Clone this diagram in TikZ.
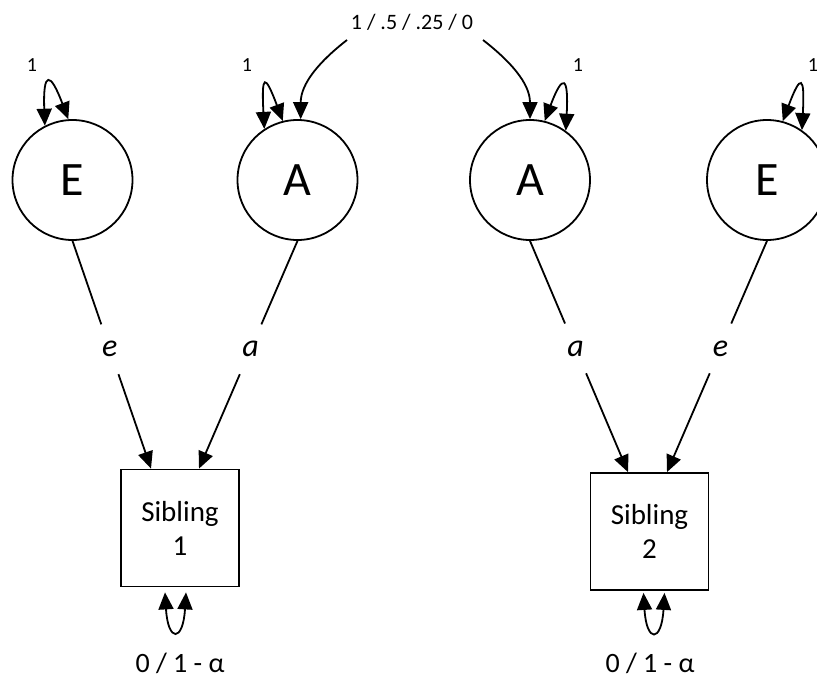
\documentclass[tikz,border=0pt]{standalone}
\usepackage{fontspec}
\setmainfont{Carlito}
\usetikzlibrary{arrows.meta}
\begin{document}
\begin{tikzpicture}[x=1pt,y=1pt,line width=1.8pt,
  >={Triangle[length=17pt,width=15pt]},
  lat/.style={draw,circle,minimum size=120pt,inner sep=0pt,font=\fontsize{48}{56}\selectfont},
  obs/.style={draw,rectangle,minimum width=118pt,minimum height=117pt,inner sep=0pt,align=center,font=\fontsize{29}{34}\selectfont},
  lbl/.style={inner sep=0pt,minimum height=48pt,minimum width=20pt,font=\fontsize{32}{36}\selectfont\itshape},
  num/.style={inner sep=0pt,font=\fontsize{20}{24}\selectfont},
  var/.style={inner sep=0pt,font=\fontsize{28}{34}\selectfont}]
\clip (0,0) rectangle (817,-679);
% latent variables
\node[lat] (E1) at (72.5,-180) {E};
\node[lat] (A1) at (297.5,-180) {A};
\node[lat] (A2) at (530,-180) {A};
\node[lat] (E2) at (767,-180) {E};
% observed
\node[obs] (S1) at (180,-528) {Sibling\\1};
\node[obs] (S2) at (649.5,-531.5) {Sibling\\2};
% top label
\node[num,font=\fontsize{22}{26}\selectfont] (top) at (412,-22) {1 / .5 / .25 / 0};
\coordinate (tl) at (347,-40);
\coordinate (tr) at (483,-40);
\draw[->] (tl) .. controls +(-27,-21) and +(0,36) .. (A1.87);
\draw[->] (tr) .. controls +(27,-21) and +(0,36) .. (A2.90);
% variance labels
\node[num] (v1) at (32,-65) {1};
\node[num] (v2) at (247,-65) {1};
\node[num] (v3) at (578,-65) {1};
\node[num] (v4) at (813,-65) {1};
% self loops on latents
\draw[<->] (E1.117) .. controls +(-2,55) and +(-18,48) .. (E1.94);
\draw[<->] (A1.123) .. controls +(-3,55) and +(-18,48) .. (A1.104);
\draw[<->] (A2.76) .. controls +(18,48) and +(3,55) .. (A2.54);
\draw[<->] (E2.75) .. controls +(18,48) and +(3,55) .. (E2.55);
% paths
\coordinate (t1) at ([xshift=-29pt]S1.north);
\coordinate (t2) at ([xshift=19pt]S1.north);
\coordinate (t3) at ([xshift=-21.5pt]S2.north);
\coordinate (t4) at ([xshift=17.5pt]S2.north);
\path (E1.south) -- node[lbl,pos=0.476] (le1) {e} (t1);
\path (A1.south) -- node[lbl,pos=0.476] (la1) {a} (t2);
\path (A2.south) -- node[lbl,pos=0.465] (la2) {a} (t3);
\path (E2.south) -- node[lbl,pos=0.465] (le2) {e} (t4);
\draw (E1.south) -- (le1);
\draw[->] (le1) -- (t1);
\draw (A1.south) -- (la1);
\draw[->] (la1) -- (t2);
\draw (A2.south) -- (la2);
\draw[->] (la2) -- (t3);
\draw (E2.south) -- (le2);
\draw[->] (le2) -- (t4);
% residual loops
\draw[<->] ([xshift=-15pt,yshift=-5pt]S1.south) .. controls +(3,-50) and +(-3,-50) .. ([xshift=6pt,yshift=-5pt]S1.south);
\draw[<->] ([xshift=-6pt,yshift=-2pt]S2.south) .. controls +(3,-50) and +(-3,-50) .. ([xshift=15pt,yshift=-2pt]S2.south);
\node[var,anchor=base] (r1) at (180,-672) {0 / 1 - α};
\node[var,anchor=base] (r2) at (650,-672) {0 / 1 - α};
\end{tikzpicture}
\end{document}
